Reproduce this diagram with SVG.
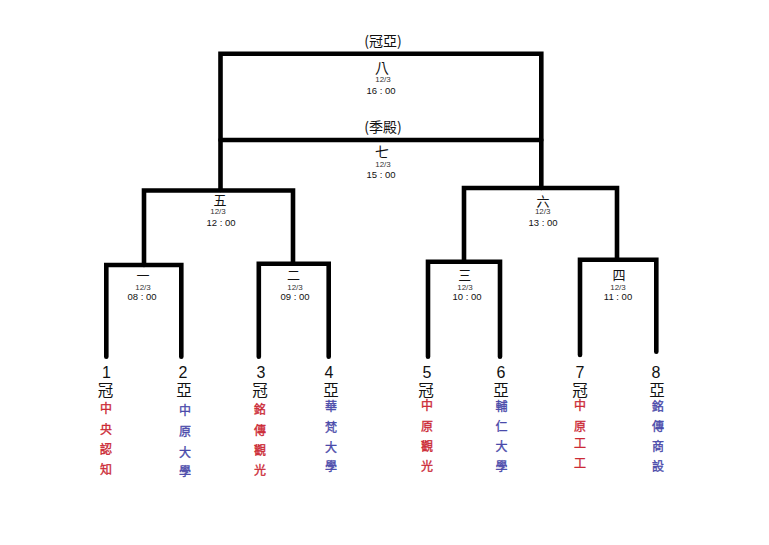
<svg xmlns="http://www.w3.org/2000/svg" width="769" height="545" viewBox="0 0 769 545">
<style>
.ln{fill:none;stroke:#000;stroke-width:4.6;stroke-linejoin:miter;stroke-linecap:round}
.t{font-family:"Noto Sans CJK TC","Noto Sans CJK SC",sans-serif;fill:#111;text-anchor:middle}
.rd{font-size:13px}
.dt{font-family:"Liberation Sans",Arial,sans-serif;font-size:8px;fill:#333;text-anchor:middle}
.tm{font-family:"Liberation Sans",Arial,sans-serif;font-size:9.5px;fill:#111;text-anchor:middle}
.num{font-family:"Liberation Sans",Arial,sans-serif;font-size:16px;fill:#111;text-anchor:middle}
.seed{font-family:"Noto Sans CJK TC",sans-serif;font-size:15.5px;fill:#111;text-anchor:middle}
.red{font-family:"Noto Sans CJK TC",sans-serif;font-size:12px;fill:#cc2a36;text-anchor:middle;stroke:#cc2a36;stroke-width:0.35}
.blue{font-family:"Noto Sans CJK TC",sans-serif;font-size:12px;fill:#4a4aaa;text-anchor:middle;stroke:#4a4aaa;stroke-width:0.35}
</style>
<rect width="769" height="545" fill="#fff"/>
<g id="connectors">
<path class="ln" d="M220.5,190 V53.7 H541.3 V188"/>
<path class="ln" d="M220.5,140 H541.3"/>
<path class="ln" d="M144,265 V190.5 H293 V263.8"/>
<path class="ln" d="M464,261.7 V188 H617 V259.8"/>
<path class="ln" d="M106.3,356.7 V265 H181.3 V356.7"/>
<path class="ln" d="M258.8,356.7 V263.8 H328.7 V356.7"/>
<path class="ln" d="M428,356.7 V261.7 H500 V356.7"/>
<path class="ln" d="M580,355 V259.8 H656.3 V351.7"/>
</g>
<g id="match8">
<text class="t" x="383" y="45.5" font-size="14">(冠亞)</text>
<text class="t" x="382" y="72.5" font-size="14">八</text>
<text class="dt" x="383" y="82.3">12/3</text>
<text class="tm" x="381" y="94">16 : 00</text>
</g>
<g id="match7">
<text class="t" x="383" y="132" font-size="14">(季殿)</text>
<text class="t" x="382" y="157" font-size="14">七</text>
<text class="dt" x="383" y="166.7">12/3</text>
<text class="tm" x="381" y="178">15 : 00</text>
</g>
<g id="match5">
<text class="t rd" x="220" y="205">五</text>
<text class="dt" x="218" y="214.3">12/3</text>
<text class="tm" x="221" y="225.7">12 : 00</text>
</g>
<g id="match6">
<text class="t rd" x="543" y="205.5">六</text>
<text class="dt" x="542.7" y="214.3">12/3</text>
<text class="tm" x="543" y="225.7">13 : 00</text>
</g>
<g id="match1">
<text class="t rd" x="143" y="280">一</text>
<text class="dt" x="143" y="290">12/3</text>
<text class="tm" x="142" y="300">08 : 00</text>
</g>
<g id="match2">
<text class="t rd" x="293.5" y="280">二</text>
<text class="dt" x="295" y="290">12/3</text>
<text class="tm" x="295" y="300">09 : 00</text>
</g>
<g id="match3">
<text class="t rd" x="464.7" y="280">三</text>
<text class="dt" x="465" y="290">12/3</text>
<text class="tm" x="467" y="300">10 : 00</text>
</g>
<g id="match4">
<text class="t rd" x="619" y="280">四</text>
<text class="dt" x="618" y="290">12/3</text>
<text class="tm" x="618" y="300">11 : 00</text>
</g>
<g id="team1">
<text class="num" x="106.5" y="378">1</text>
<text class="seed" x="105.5" y="395.5">冠</text>
<text class="red"><tspan x="106" y="412.5">中</tspan><tspan x="106" y="433.5">央</tspan><tspan x="106" y="454">認</tspan><tspan x="106" y="473.5">知</tspan></text>
</g>
<g id="team2">
<text class="num" x="183" y="378">2</text>
<text class="seed" x="184" y="395.5">亞</text>
<text class="blue"><tspan x="185" y="414.5">中</tspan><tspan x="185" y="435.5">原</tspan><tspan x="185" y="456.5">大</tspan><tspan x="185" y="476">學</tspan></text>
</g>
<g id="team3">
<text class="num" x="261" y="378">3</text>
<text class="seed" x="260" y="395.5">冠</text>
<text class="red"><tspan x="260" y="414">銘</tspan><tspan x="260" y="434.5">傳</tspan><tspan x="260" y="455">觀</tspan><tspan x="260" y="474.5">光</tspan></text>
</g>
<g id="team4">
<text class="num" x="329" y="378">4</text>
<text class="seed" x="331" y="395.5">亞</text>
<text class="blue"><tspan x="331" y="410.5">華</tspan><tspan x="331" y="431.5">梵</tspan><tspan x="331" y="451.5">大</tspan><tspan x="331" y="471">學</tspan></text>
</g>
<g id="team5">
<text class="num" x="427" y="378">5</text>
<text class="seed" x="426" y="395.5">冠</text>
<text class="red"><tspan x="427" y="409.5">中</tspan><tspan x="427" y="431">原</tspan><tspan x="427" y="451">觀</tspan><tspan x="427" y="471">光</tspan></text>
</g>
<g id="team6">
<text class="num" x="501" y="378">6</text>
<text class="seed" x="501" y="395.5">亞</text>
<text class="blue"><tspan x="501.5" y="410.5">輔</tspan><tspan x="501.5" y="431">仁</tspan><tspan x="501.5" y="451">大</tspan><tspan x="501.5" y="471">學</tspan></text>
</g>
<g id="team7">
<text class="num" x="580" y="378">7</text>
<text class="seed" x="580" y="395.5">冠</text>
<text class="red"><tspan x="580" y="410">中</tspan><tspan x="580" y="430.5">原</tspan><tspan x="580" y="448">工</tspan><tspan x="580" y="468">工</tspan></text>
</g>
<g id="team8">
<text class="num" x="656" y="378">8</text>
<text class="seed" x="657" y="395.5">亞</text>
<text class="blue"><tspan x="658" y="410.5">銘</tspan><tspan x="658" y="430.5">傳</tspan><tspan x="658" y="450.5">商</tspan><tspan x="658" y="471">設</tspan></text>
</g>
</svg>
